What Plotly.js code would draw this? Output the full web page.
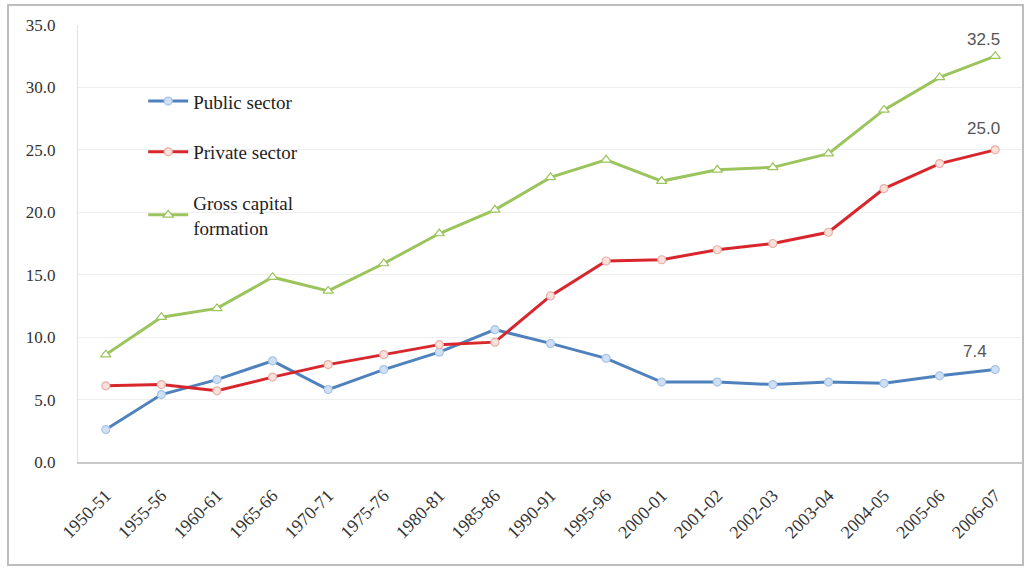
<!DOCTYPE html>
<html>
<head>
<meta charset="utf-8">
<script src="https://cdn.plot.ly/plotly-3.0.1.min.js"></script>
<style>
  html, body { margin: 0; padding: 0; background: #ffffff; }
  #wrap { position: relative; width: 1025px; height: 568px; }
  #frame { position: absolute; left: 7px; top: 4px; width: 1017px; height: 562px; border: 2px solid #bdbdbd; box-sizing: border-box; pointer-events: none; }
  #chart { position: absolute; left: 0; top: 0; width: 1025px; height: 568px; }
</style>
</head>
<body>
<div id="wrap">
  <div id="chart"></div>
  <div id="frame"></div>
</div>
<script>
const years = ["1950-51","1955-56","1960-61","1965-66","1970-71","1975-76","1980-81","1985-86","1990-91","1995-96","2000-01","2001-02","2002-03","2003-04","2004-05","2005-06","2006-07"];
const publicSector = [2.6, 5.4, 6.6, 8.1, 5.8, 7.4, 8.8, 10.6, 9.5, 8.3, 6.4, 6.4, 6.2, 6.4, 6.3, 6.9, 7.4];
const privateSector = [6.1, 6.2, 5.7, 6.8, 7.8, 8.6, 9.4, 9.6, 13.3, 16.1, 16.2, 17.0, 17.5, 18.4, 21.9, 23.9, 25.0];
const grossCapital = [8.6, 11.6, 12.3, 14.8, 13.7, 15.9, 18.3, 20.2, 22.8, 24.2, 22.5, 23.4, 23.6, 24.7, 28.2, 30.8, 32.5];
const seriesNames = ["Public sector", "Private sector", "Gross capital<br>formation"];

const SERIF = "'Liberation Serif', 'Times New Roman', 'DejaVu Serif', serif";
const colors = ["#4f81bd", "#d7272d", "#9bc45c"];
const fills = ["#cfe0f5", "#fbe0dc", "#ffffff"];
const outlines = ["#a9c4e6", "#e8b0a8", "#9bc45c"];
const symbols = ["circle", "circle", "triangle-up"];
const allSeries = [publicSector, privateSector, grossCapital];

const traces = allSeries.map((vals, i) => ({
  type: "scatter",
  mode: "lines+markers",
  x: years,
  y: vals,
  name: seriesNames[i],
  legendgroup: "g" + i,
  line: { color: colors[i], width: 3 },
  marker: { symbol: symbols[i], size: i === 2 ? 9 : 8, color: fills[i], line: { color: outlines[i], width: 1.2 } },
  hoverinfo: "x+y+name"
}));

const last = years.length - 1;
const labelShift = [[-20, 18], [-12, 21], [-12, 17]];
const annotations = allSeries.map((vals, i) => ({
  x: years[last],
  y: vals[last],
  xref: "x", yref: "y",
  text: vals[last].toFixed(1),
  showarrow: false,
  xshift: labelShift[i][0],
  yshift: labelShift[i][1],
  font: { family: "'Liberation Sans', Arial, sans-serif", size: 17, color: "#555555" }
}));

const layout = {
  width: 1025,
  height: 568,
  margin: { l: 78, r: 2, t: 25, b: 106 },
  paper_bgcolor: "rgba(0,0,0,0)",
  plot_bgcolor: "#ffffff",
  font: { family: SERIF },
  showlegend: true,
  legend: {
    x: 0.069, y: 0.869, xanchor: "left", yanchor: "top",
    bgcolor: "rgba(0,0,0,0)",
    font: { family: SERIF, size: 19, color: "#222222" },
    traceorder: "grouped",
    tracegroupgap: 23,
    itemwidth: 40
  },
  xaxis: {
    type: "category",
    range: [-0.5, years.length - 0.5],
    tickangle: -45,
    tickfont: { family: SERIF, size: 18, color: "#333333" },
    ticks: "outside",
    ticklen: 14,
    tickcolor: "rgba(0,0,0,0)",
    showgrid: false,
    showline: true,
    linecolor: "#c8c8c8",
    linewidth: 2,
    zeroline: false,
    fixedrange: true
  },
  yaxis: {
    range: [0, 35],
    dtick: 5,
    tick0: 0,
    tickformat: ".1f",
    tickfont: { family: SERIF, size: 17, color: "#333333" },
    showgrid: true,
    gridcolor: "#efefef",
    gridwidth: 1,
    showline: true,
    linecolor: "#e0e0e0",
    linewidth: 1,
    zeroline: false,
    ticks: "",
    ticklabelstandoff: 18,
    fixedrange: true
  },
  annotations: annotations
};

Plotly.newPlot("chart", traces, layout, { displayModeBar: false, staticPlot: true });
</script>
</body>
</html>
